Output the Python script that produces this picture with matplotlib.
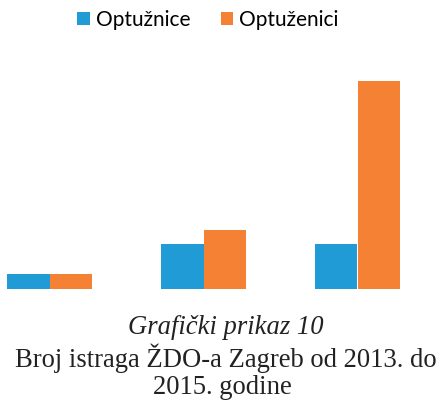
import matplotlib
matplotlib.use("Agg")
import matplotlib.pyplot as plt
from matplotlib.patches import Patch
import numpy as np

categories = ["2013.", "2014.", "2015."]
series_names = ["Optužnice", "Optuženici"]
optuznice = [1, 3, 3]
optuzenici = [1, 4, 14]
colors = ["#219BD6", "#F58134"]

W, H = 441, 403
fig = plt.figure(figsize=(W / 100, H / 100), dpi=100)

base_px = 289
top_px = 81
ax = fig.add_axes([0, (H - base_px) / H, 1, (base_px - top_px) / H])
x = np.arange(len(categories))
bw = 42.5 / 154
ax.bar(x - bw / 2, optuznice, width=bw, color=colors[0], linewidth=0)
ax.bar(x + bw / 2, optuzenici, width=bw, color=colors[1], linewidth=0)
ax.set_xlim((0 - 49.5) / 154, (441 - 49.5) / 154)
ax.set_ylim(0, 14)
ax.axis("off")

handles = [Patch(facecolor=c, edgecolor="none") for c in colors]
fig.legend(handles, series_names, loc="center", bbox_to_anchor=(208 / W, 1 - 20 / H),
           ncol=2, frameon=False, handlelength=0.6, handleheight=0.6,
           handletextpad=0.3, columnspacing=1.45,
           prop={"family": ["Lato", "DejaVu Sans"], "size": 15})

serif = ["Liberation Serif", "DejaVu Serif"]
fig.text(226 / W, 1 - 328 / H, "Grafički prikaz 10", ha="center", va="center",
         family=serif, style="italic", fontsize=19.2, color="#222222")
fig.text(225.5 / W, 1 - 358 / H, "Broj istraga ŽDO-a Zagreb od 2013. do", ha="center", va="center",
         family=serif, fontsize=19.2, color="#222222")
fig.text(222 / W, 1 - 388 / H, "2015. godine", ha="center", va="center",
         family=serif, fontsize=19.2, color="#222222")

fig.savefig("out.png", dpi=100)
